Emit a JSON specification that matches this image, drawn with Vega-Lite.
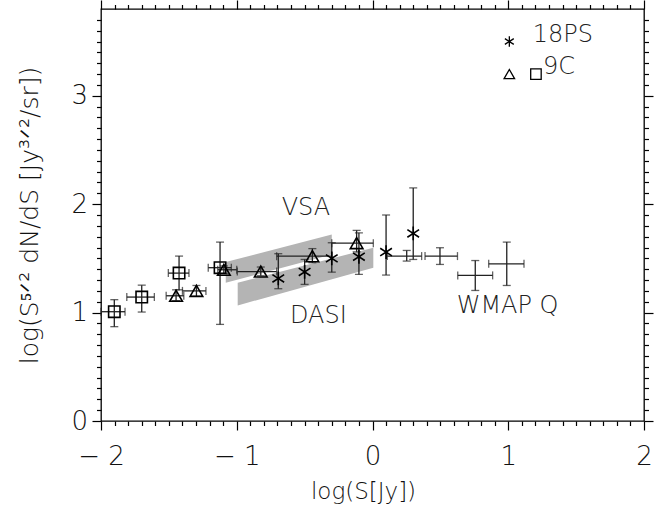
{
  "$schema": "https://vega.github.io/schema/vega-lite/v6.json",
  "width": 543,
  "height": 412,
  "autosize": "none",
  "padding": {"left": 101, "top": 9, "right": 22, "bottom": 93},
  "background": "white",
  "config": {
    "view": {"stroke": "black", "strokeWidth": 1.3},
    "font": "DejaVu Sans",
    "axis": {"grid": false, "domain": false, "ticks": true, "zindex": 1, "tickColor": "black", "tickWidth": 1.2,
      "labelFont": "DejaVu Sans", "labelFontWeight": 200, "titleFont": "DejaVu Sans", "titleFontWeight": 200, "labelColor": "#111", "titleColor": "#111"}
  },
  "datasets": {
    "pts": [
      {"s": "18PS", "x": -0.694, "y": 1.315, "yl": 1.22, "yh": 1.543},
      {"s": "18PS", "x": -0.50, "y": 1.375, "yl": 1.26, "yh": 1.49},
      {"s": "18PS", "x": -0.30, "y": 1.50, "yl": 1.373, "yh": 1.644},
      {"s": "18PS", "x": -0.10, "y": 1.515, "yl": 1.352, "yh": 1.736},
      {"s": "18PS", "x": 0.10, "y": 1.558, "yl": 1.346, "yh": 1.90},
      {"s": "18PS", "x": 0.30, "y": 1.73, "yl": 1.49, "yh": 2.15},
      {"s": "9Ct", "x": -1.447, "y": 1.155, "xl": -1.52, "xh": -1.39, "yl": 1.11, "yh": 1.21},
      {"s": "9Ct", "x": -1.297, "y": 1.20, "xl": -1.40, "xh": -1.227, "yl": 1.15, "yh": 1.25},
      {"s": "9Ct", "x": -1.095, "y": 1.395, "xl": -1.14, "xh": -1.0, "yl": 1.36, "yh": 1.43},
      {"s": "9Ct", "x": -0.823, "y": 1.378, "xl": -0.996, "xh": -0.706, "yl": 1.34, "yh": 1.42},
      {"s": "9Ct", "x": -0.443, "y": 1.52, "xl": -0.706, "xh": -0.30, "yl": 1.46, "yh": 1.59},
      {"s": "9Ct", "x": -0.117, "y": 1.64, "xl": -0.30, "xh": 0.006, "yl": 1.56, "yh": 1.758},
      {"s": "9Cs", "x": -1.902, "y": 1.008, "xl": -2.0, "xh": -1.823, "yl": 0.87, "yh": 1.119},
      {"s": "9Cs", "x": -1.70, "y": 1.143, "xl": -1.81, "xh": -1.607, "yl": 1.005, "yh": 1.253},
      {"s": "9Cs", "x": -1.425, "y": 1.364, "xl": -1.504, "xh": -1.352, "yl": 1.21, "yh": 1.521},
      {"s": "9Cs", "x": -1.123, "y": 1.414, "xl": -1.21, "xh": -1.04, "yl": 0.891, "yh": 1.65},
      {"s": "WMAP", "x": 0.252, "y": 1.521, "xl": 0.109, "xh": 0.362, "yl": 1.475, "yh": 1.573},
      {"s": "WMAP", "x": 0.497, "y": 1.521, "xl": 0.387, "xh": 0.626, "yl": 1.444, "yh": 1.598},
      {"s": "WMAP", "x": 0.757, "y": 1.343, "xl": 0.628, "xh": 0.885, "yl": 1.204, "yh": 1.48},
      {"s": "WMAP", "x": 0.989, "y": 1.45, "xl": 0.856, "xh": 1.116, "yl": 1.25, "yh": 1.65}
    ],
    "bands": [
      {"band": "VSA", "x": -1.081, "lo": 1.275, "hi": 1.466},
      {"band": "VSA", "x": -0.30, "lo": 1.536, "hi": 1.721},
      {"band": "DASI", "x": -0.993, "lo": 1.066, "hi": 1.275},
      {"band": "DASI", "x": 0.006, "lo": 1.414, "hi": 1.598}
    ],
    "legendsym": [
      {"s": "18PS", "x": 1.008, "y": 3.50},
      {"s": "9Ct", "x": 1.008, "y": 3.20},
      {"s": "9Cs", "x": 1.204, "y": 3.20}
    ],
    "labels": [
      {"t": "VSA", "x": -0.669, "y": 1.904},
      {"t": "DASI", "x": -0.608, "y": 0.90},
      {"t": "WMAP  Q", "x": 0.62, "y": 0.999},
      {"t": "18PS", "x": 1.18, "y": 3.50},
      {"t": "9C", "x": 1.256, "y": 3.20}
    ]
  },
  "resolve": {"axis": {"x": "independent", "y": "independent"}},
  "layer": [
    {
      "data": {"name": "bands"},
      "mark": {"type": "area", "color": "#b4b4b4", "opacity": 1},
      "encoding": {
        "x": {"field": "x", "type": "quantitative", "scale": {"domain": [-2, 2], "nice": false, "zero": false},
          "axis": {"orient": "bottom", "tickSize": 9, "values": [-2, -1, 0, 1, 2],
            "labelExpr": "(datum.value < -0.5 ? '− ' : '') + format(abs(datum.value), 'd')",
            "labelFlush": false, "labelFontSize": 26, "labelPadding": 13, "labelBaseline": "top",
            "title": "log(S[Jy])", "titleFontSize": 23, "titleX": 262, "titleY": 77, "titleBaseline": "alphabetic", "titleAnchor": null}},
        "y": {"field": "lo", "type": "quantitative", "scale": {"domain": [0, 3.8], "nice": false, "zero": false},
          "axis": {"orient": "left", "tickSize": 9, "values": [0, 1, 2, 3],
            "labelExpr": "format(datum.value, 'd')",
            "labelFlush": false, "labelFontSize": 26, "labelPadding": 4.5, "labelBaseline": "middle",
            "title": "log(S⁵ᐟ²  dN/dS  [Jy³ᐟ²/sr])", "titleFontSize": 25, "titleX": -64, "titleY": 206, "titleBaseline": "alphabetic", "titleAngle": -90, "titleAnchor": null}},
        "y2": {"field": "hi"},
        "detail": {"field": "band"}
      }
    },
    {
      "data": {"name": "pts"},
      "transform": [{"filter": "isValid(datum.yl)"}],
      "mark": {"type": "rule", "color": "#222", "strokeWidth": 1.3},
      "encoding": {
        "x": {"field": "x", "type": "quantitative",
          "axis": {"orient": "top", "tickSize": 9, "values": [-2, -1, 0, 1, 2], "labels": false, "title": null}},
        "y": {"field": "yl", "type": "quantitative",
          "axis": {"orient": "right", "tickSize": 9, "values": [0, 1, 2, 3], "labels": false, "title": null}},
        "y2": {"field": "yh"}
      }
    },
    {
      "data": {"name": "pts"},
      "transform": [{"filter": "isValid(datum.xl)"}],
      "mark": {"type": "rule", "color": "#222", "strokeWidth": 1.3},
      "encoding": {
        "x": {"field": "xl", "type": "quantitative",
          "axis": {"orient": "bottom", "tickSize": 4.5, "values": [-1.9,-1.8,-1.7,-1.6,-1.5,-1.4,-1.3,-1.2,-1.1,-0.9,-0.8,-0.7,-0.6,-0.5,-0.4,-0.3,-0.2,-0.1,0.1,0.2,0.3,0.4,0.5,0.6,0.7,0.8,0.9,1.1,1.2,1.3,1.4,1.5,1.6,1.7,1.8,1.9], "labels": false, "title": null}},
        "x2": {"field": "xh"},
        "y": {"field": "y", "type": "quantitative",
          "axis": {"orient": "left", "tickSize": 4.5, "values": [0.1,0.2,0.3,0.4,0.5,0.6,0.7,0.8,0.9,1.1,1.2,1.3,1.4,1.5,1.6,1.7,1.8,1.9,2.1,2.2,2.3,2.4,2.5,2.6,2.7,2.8,2.9,3.1,3.2,3.3,3.4,3.5,3.6,3.7], "labels": false, "title": null}}
      }
    },
    {
      "data": {"name": "pts"},
      "transform": [{"filter": "isValid(datum.yl)"}, {"fold": ["yl", "yh"], "as": ["k", "yy"]}],
      "mark": {"type": "tick", "orient": "horizontal", "color": "#222", "thickness": 1.3, "size": 8},
      "encoding": {
        "x": {"field": "x", "type": "quantitative",
          "axis": {"orient": "top", "tickSize": 4.5, "values": [-1.9,-1.8,-1.7,-1.6,-1.5,-1.4,-1.3,-1.2,-1.1,-0.9,-0.8,-0.7,-0.6,-0.5,-0.4,-0.3,-0.2,-0.1,0.1,0.2,0.3,0.4,0.5,0.6,0.7,0.8,0.9,1.1,1.2,1.3,1.4,1.5,1.6,1.7,1.8,1.9], "labels": false, "title": null}},
        "y": {"field": "yy", "type": "quantitative",
          "axis": {"orient": "right", "tickSize": 4.5, "values": [0.1,0.2,0.3,0.4,0.5,0.6,0.7,0.8,0.9,1.1,1.2,1.3,1.4,1.5,1.6,1.7,1.8,1.9,2.1,2.2,2.3,2.4,2.5,2.6,2.7,2.8,2.9,3.1,3.2,3.3,3.4,3.5,3.6,3.7], "labels": false, "title": null}}
      }
    },
    {
      "data": {"name": "pts"},
      "transform": [{"filter": "isValid(datum.xl)"}, {"fold": ["xl", "xh"], "as": ["k", "xx"]}],
      "mark": {"type": "tick", "orient": "vertical", "color": "#222", "thickness": 1.3, "size": 8},
      "encoding": {
        "x": {"field": "xx", "type": "quantitative", "axis": null},
        "y": {"field": "y", "type": "quantitative", "axis": null}
      }
    },
    {
      "data": {"name": "pts"},
      "transform": [{"filter": "datum.s !== 'WMAP'"}],
      "mark": {"type": "point", "filled": false, "color": "black", "strokeWidth": 1.6, "opacity": 1},
      "encoding": {
        "x": {"field": "x", "type": "quantitative", "axis": null},
        "y": {"field": "y", "type": "quantitative", "axis": null},
        "shape": {"field": "s", "type": "nominal", "legend": null,
          "scale": {"domain": ["18PS", "9Ct", "9Cs"], "range": ["M0,-1L0,1M-0.85,-0.55L0.85,0.55M-0.85,0.55L0.85,-0.55", "triangle-up", "square"]}},
        "size": {"field": "s", "type": "nominal", "legend": null,
          "scale": {"domain": ["18PS", "9Ct", "9Cs"], "range": [190, 130, 120]}}
      }
    },
    {
      "data": {"name": "legendsym"},
      "mark": {"type": "point", "filled": false, "color": "black", "strokeWidth": 1.3, "opacity": 1},
      "encoding": {
        "x": {"field": "x", "type": "quantitative", "axis": null},
        "y": {"field": "y", "type": "quantitative", "axis": null},
        "shape": {"field": "s", "type": "nominal", "legend": null,
          "scale": {"domain": ["18PS", "9Ct", "9Cs"], "range": ["M0,-1L0,1M-0.85,-0.55L0.85,0.55M-0.85,0.55L0.85,-0.55", "triangle-up", "square"]}},
        "size": {"value": 110}
      }
    },
    {
      "data": {"name": "labels"},
      "mark": {"type": "text", "align": "left", "baseline": "alphabetic", "font": "DejaVu Sans", "fontWeight": 200, "fontSize": 24, "color": "#222"},
      "encoding": {
        "x": {"field": "x", "type": "quantitative", "axis": null},
        "y": {"field": "y", "type": "quantitative", "axis": null},
        "text": {"field": "t"}
      }
    }
  ]
}
